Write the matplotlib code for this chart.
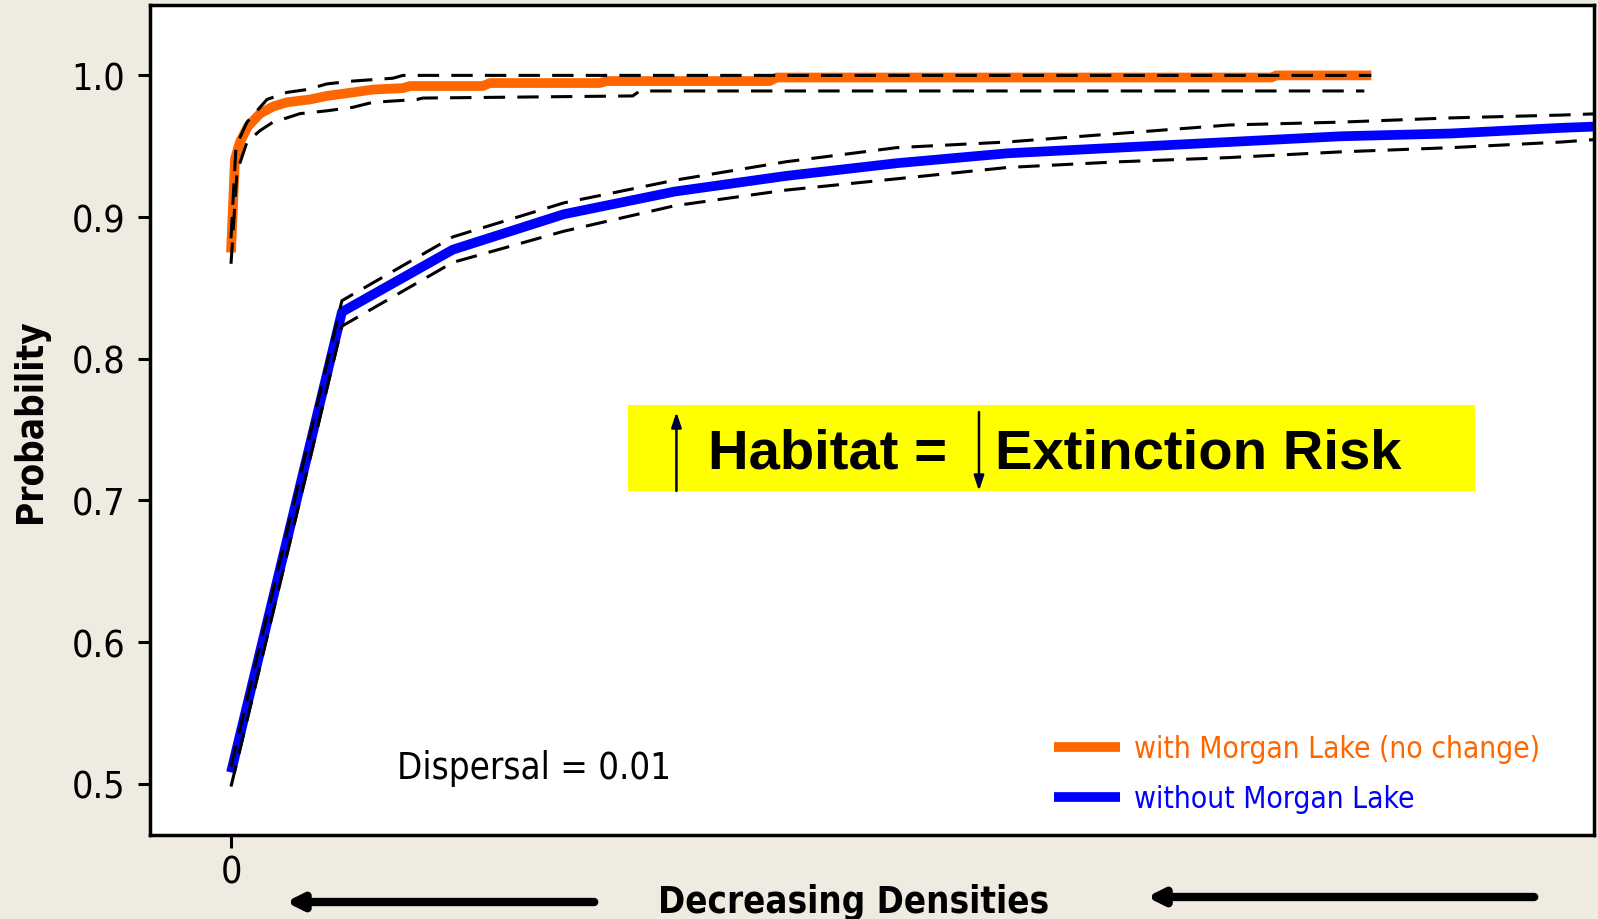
import numpy as np
import matplotlib
matplotlib.use("Agg")
import matplotlib.pyplot as plt
from matplotlib.patches import Rectangle

plt.rcParams['font.family'] = ['DejaVu Sans']
plt.rcParams['font.stretch'] = 'condensed'

# with Morgan Lake (no change)
with_x = [0.0, 0.04, 0.09, 0.17, 0.29, 0.42, 0.56, 0.79, 0.96, 1.22, 1.42, 1.72, 1.79,
          2.52, 2.59, 3.69, 3.76, 5.39, 5.46, 10.41, 10.46, 11.41]
with_y = [0.875, 0.941, 0.953, 0.964, 0.973, 0.978, 0.981, 0.983, 0.9855, 0.988, 0.990, 0.991, 0.9925,
          0.9925, 0.9946, 0.9946, 0.996, 0.996, 0.9985, 0.9985, 1.0, 1.0]
with_up_x = [0.0, 0.05, 0.16, 0.36, 0.56, 0.76, 0.96, 1.22, 1.62, 1.72, 11.41]
with_up_y = [0.885, 0.950, 0.967, 0.983, 0.988, 0.990, 0.994, 0.996, 0.998, 1.0, 1.0]
with_lo_x = [0.0, 0.06, 0.16, 0.29, 0.42, 0.56, 0.69, 0.96, 1.22, 1.42, 1.86, 1.92, 4.02, 4.09, 11.34]
with_lo_y = [0.867, 0.932, 0.953, 0.961, 0.967, 0.970, 0.973, 0.975, 0.9775, 0.981, 0.983, 0.984,
             0.9855, 0.989, 0.989]

# without Morgan Lake
wo_x = [0.0, 1.11, 2.22, 3.33, 4.44, 5.55, 6.66, 7.77, 8.88, 9.99, 11.10, 12.21, 13.32, 13.70]
wo_y = [0.508, 0.833, 0.877, 0.902, 0.918, 0.929, 0.938, 0.945, 0.949, 0.953, 0.957, 0.959, 0.963, 0.964]
wo_up = [0.512, 0.841, 0.886, 0.910, 0.926, 0.939, 0.949, 0.953, 0.959, 0.965, 0.967, 0.970, 0.972, 0.973]
wo_lo = [0.498, 0.823, 0.868, 0.890, 0.908, 0.919, 0.927, 0.935, 0.939, 0.942, 0.946, 0.949, 0.953, 0.955]

yticks = [0.5, 0.6, 0.7, 0.8, 0.9, 1.0]
orange = '#FF6600'
blue = '#0000FF'

fig = plt.figure(figsize=(15.98, 9.2), dpi=100, facecolor='#EFEBE1')
ax = fig.add_axes([0.0939, 0.0913, 0.9037, 0.9022])
ax.set_facecolor('white')

dash = dict(color='black', lw=2.2, dashes=(7, 4))
ax.plot(with_x, with_y, color=orange, lw=7, solid_capstyle='butt',
        label='with Morgan Lake (no change)', zorder=2)
ax.plot(wo_x, wo_y, color=blue, lw=7, solid_capstyle='butt',
        label='without Morgan Lake', zorder=2)
ax.plot(with_up_x, with_up_y, zorder=3, **dash)
ax.plot(with_lo_x, with_lo_y, zorder=3, **dash)
ax.plot(wo_x, wo_up, zorder=3, **dash)
ax.plot(wo_x, wo_lo, zorder=3, **dash)

ax.set_xlim(-0.81, 13.64)
ax.set_ylim(0.4638, 1.0497)
ax.set_yticks(yticks)
ax.set_yticklabels([f'{v:.1f}' for v in yticks])
ax.set_xticks([0])
ax.set_xticklabels(['0'])
ax.tick_params(axis='both', labelsize=27, width=2.2, length=9, direction='out', pad=9)
ax.tick_params(axis='x', pad=5)
for s in ax.spines.values():
    s.set_linewidth(2.5)

ax.set_ylabel('Probability', fontsize=26.5, fontweight='bold', labelpad=16)
fig.text(0.5344, 0.0185, 'Decreasing Densities', fontsize=26.3, fontweight='bold',
         ha='center', va='center')

ax.text(0.171, 0.081, 'Dispersal = 0.01', transform=ax.transAxes, fontsize=26.3,
        ha='left', va='center')

leg = ax.legend(loc='lower left', bbox_to_anchor=(0.618, 0.012), frameon=False, fontsize=21.5,
                handlelength=2.2, handletextpad=0.45, labelspacing=0.7, borderaxespad=0,
                labelcolor='linecolor')

# yellow call-out
ax.add_patch(Rectangle((0.3313, 0.4145), 0.5864, 0.1035, transform=ax.transAxes,
                       facecolor='#FFFF00', edgecolor='none', zorder=4))
ax.text(0.3865, 0.4596, 'Habitat =', transform=ax.transAxes, fontsize=40.5, fontweight='bold',
        family='Liberation Sans', stretch='normal', ha='left', va='center', zorder=5)
ax.text(0.5852, 0.4596, 'Extinction Risk', transform=ax.transAxes, fontsize=40.5, fontweight='bold',
        family='Liberation Sans', stretch='normal', ha='left', va='center', zorder=5)
arr = dict(arrowstyle='-|>,head_length=0.9,head_width=0.3', color='#000033', lw=1.8,
           shrinkA=0, shrinkB=0)
ax.annotate('', xy=(0.3645, 0.5096), xytext=(0.3645, 0.4145), xycoords='axes fraction',
            arrowprops=arr, zorder=5)
ax.annotate('', xy=(0.574, 0.4145), xytext=(0.574, 0.5096), xycoords='axes fraction',
            arrowprops=arr, zorder=5)

# direction arrows under the x axis
big = dict(arrowstyle='-|>,head_length=0.9,head_width=0.45', color='black', lw=6)
fig.add_artist(plt.Annotation('', xy=(283, 17), xytext=(597, 17), xycoords='figure pixels',
                              arrowprops=big))
fig.add_artist(plt.Annotation('', xy=(1144, 22), xytext=(1537, 22), xycoords='figure pixels',
                              arrowprops=big))

fig.savefig('out.png', dpi=100, facecolor=fig.get_facecolor())
